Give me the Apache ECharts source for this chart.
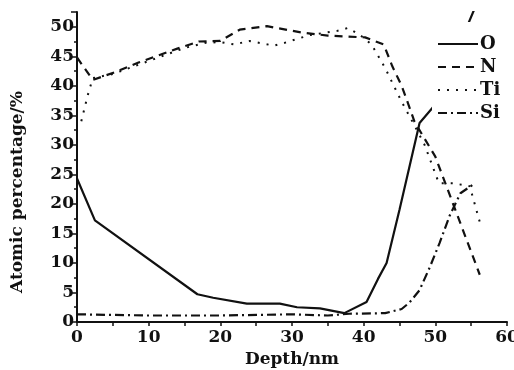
<!DOCTYPE html>
<html>
<head>
<meta charset="utf-8">
<script src="https://cdn.jsdelivr.net/npm/echarts@6/dist/echarts.min.js"></script>
<style>
  html, body { margin: 0; padding: 0; background: #fff; }
  #chart { width: 514px; height: 370px; }
</style>
</head>
<body>
<div id="chart"></div>
<script>
// [depth nm, atomic %]
const oData = [
  [0, 24.3], [2.5, 17.2], [16.8, 4.7], [19, 4.1], [23.7, 3.1], [28.3, 3.1],
  [30.7, 2.5], [33.9, 2.3], [37.3, 1.5], [40.4, 3.4], [42, 7.3], [43.2, 10],
  [45, 19], [47.8, 33.7], [49.7, 36.4], [55.8, 54]
]
const nData = [
  [0, 44.8], [2.2, 41], [5.3, 42.3], [8.5, 43.9], [14, 46.3], [17, 47.5],
  [20, 47.6], [22.7, 49.5], [26.5, 50.1], [31.5, 49], [35, 48.5], [40.2, 48.2],
  [42.8, 47], [44, 43.3], [45.3, 40], [46.2, 37], [47.1, 33.9], [50, 28],
  [56.2, 8]
]
const tiData = [
  [0.6, 34], [1.5, 38.4], [2.2, 41.3], [5, 42], [10, 44.2], [15, 46.4],
  [18, 47.3], [20, 47.4], [22, 47], [24, 47.6], [27.5, 46.8], [29, 47.3],
  [32.5, 48.6], [36.3, 49.3], [37.8, 49.8], [39.5, 48.6], [41.1, 47],
  [43, 43], [45.3, 37.3], [47, 33.5], [48.5, 30], [50.5, 23.5], [52.5, 23.5],
  [54.8, 23], [56.3, 16.5]
]
const siData = [
  [0, 1.3], [10, 1.1], [20, 1.1], [30, 1.3], [35, 1.1], [38, 1.4],
  [43, 1.5], [45.3, 2.2], [46.4, 3.3], [47.8, 5.4], [49.2, 9.2], [50.6, 13.4],
  [52, 18], [53.5, 21.8], [55.3, 23.3]
]
const seriesNames = ['O', 'N', 'Ti', 'Si']

const font = "'DejaVu Serif', 'Liberation Serif', serif"
const ink = '#111'

function line(name, data, type, width) {
  return {
    name,
    type: 'line',
    data,
    symbol: 'none',
    smooth: false,
    clip: true,
    lineStyle: { color: ink, width, type },
    itemStyle: { color: ink },
    emphasis: { disabled: true },
  }
}

const chart = echarts.init(document.getElementById('chart'), null, { renderer: 'canvas' })

chart.setOption({
  animation: false,
  textStyle: { fontFamily: font, color: ink },
  // fixed plot box; v6 would otherwise shrink it to fit the labels
  grid: { left: 77, right: 7, top: 12, bottom: 48, containLabel: false, outerBoundsMode: 'none' },
  // white box: the O curve runs behind the legend as in the original
  legend: {
    orient: 'vertical',
    left: 432,
    top: 22,
    padding: [13, 2, 3, 5],
    itemWidth: 40,
    itemHeight: 14,
    itemGap: 5,
    backgroundColor: '#fff',
    data: seriesNames,
    itemStyle: { opacity: 0 },
    textStyle: { fontFamily: font, fontSize: 18, fontWeight: 'bold', color: ink, padding: [0, 0, 0, -3] },
  },
  xAxis: {
    type: 'value',
    min: 0,
    max: 60,
    interval: 10,
    name: 'Depth/nm',
    nameLocation: 'middle',
    nameGap: 28,
    nameTextStyle: { fontFamily: font, fontSize: 17, fontWeight: 'bold', color: ink },
    axisLine: { show: true, onZero: false, lineStyle: { color: ink, width: 2 } },
    axisTick: { show: true, inside: false, length: 4, lineStyle: { color: ink, width: 1.5 } },
    minorTick: { show: true, splitNumber: 2, length: 4, lineStyle: { color: ink, width: 1.5 } },
    axisLabel: { fontFamily: font, fontSize: 17, fontWeight: 'bold', color: ink, margin: 7 },
    splitLine: { show: false },
  },
  yAxis: {
    type: 'value',
    min: 0,
    max: 52.5,
    interval: 5,
    axisLine: { show: true, onZero: false, lineStyle: { color: ink, width: 2 } },
    axisTick: { show: true, inside: false, length: 6, lineStyle: { color: ink, width: 1.5 } },
    minorTick: { show: true, splitNumber: 2, length: 3, lineStyle: { color: ink, width: 1.5 } },
    axisLabel: {
      fontFamily: font, fontSize: 17, fontWeight: 'bold', color: ink, margin: 3,
      formatter: v => (v % 5 === 0 ? String(v) : ''),
    },
    splitLine: { show: false },
  },
  graphic: [{
    type: 'text',
    x: 18,
    y: 192,
    rotation: Math.PI / 2,
    style: {
      text: 'Atomic percentage/%',
      fontFamily: font,
      fontSize: 17,
      fontWeight: 'bold',
      fill: ink,
      align: 'center',
      verticalAlign: 'middle',
    },
  }],
  series: [
    line('O', oData, 'solid', 2.2),
    line('N', nData, [8, 6], 2.2),
    line('Ti', tiData, [2, 7], 2),
    line('Si', siData, [9, 4, 2, 4], 2.2),
  ],
})
</script>
</body>
</html>
